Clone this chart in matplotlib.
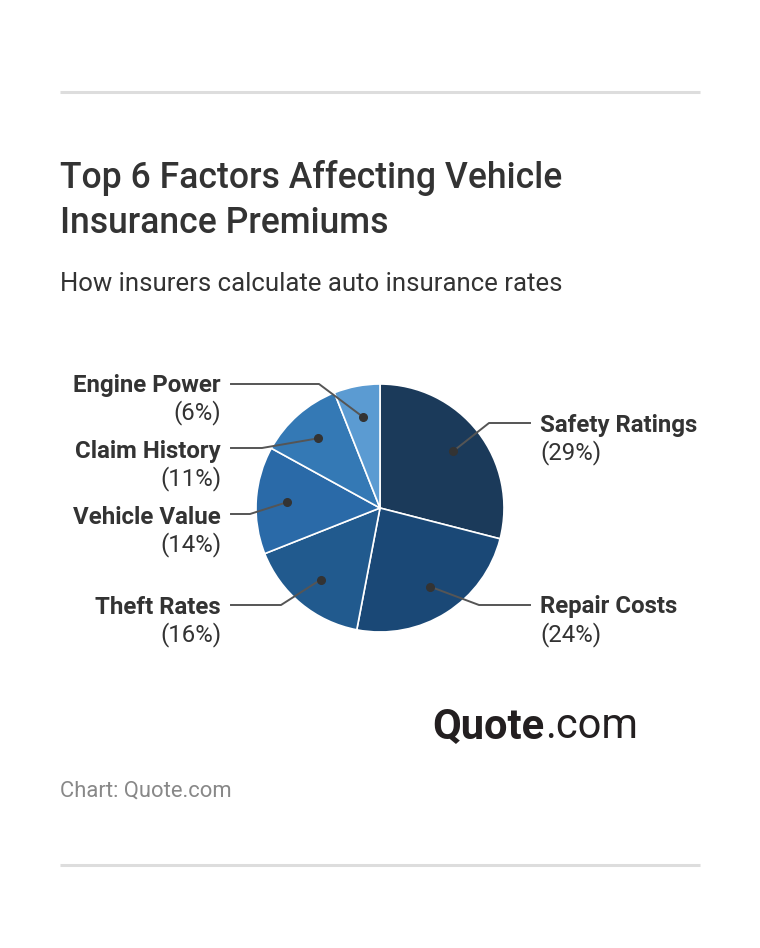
import matplotlib
matplotlib.use("Agg")
import matplotlib.pyplot as plt
import numpy as np

categories = ["Safety Ratings", "Repair Costs", "Theft Rates", "Vehicle Value", "Claim History", "Engine Power"]
values = [29, 24, 16, 14, 11, 6]
colors = ["#1b3a5a", "#1a4876", "#215a8e", "#2a6aa8", "#3479b5", "#5b9bd2"]

W, H = 760, 948
fig = plt.figure(figsize=(W / 100, H / 100), dpi=100)
ax = fig.add_axes([0, 0, 1, 1])
ax.set_xlim(0, W)
ax.set_ylim(0, H)
ax.set_aspect("equal")
ax.axis("off")
plt.rcParams['font.family'] = ['Roboto', 'DejaVu Sans']

def Y(y):
    return H - y

# rules
ax.plot([60, 700], [Y(92), Y(92)], color="#dddddd", lw=2.2, solid_capstyle="butt")
ax.plot([60, 700], [Y(865), Y(865)], color="#dddddd", lw=2.2, solid_capstyle="butt")

# title
ax.text(60, Y(178), "Top 6 Factors Affecting Vehicle", fontsize=25.6, fontweight="medium",
        color="#333333", ha="left", va="center")
ax.text(60, Y(223), "Insurance Premiums", fontsize=25.6, fontweight="medium",
        color="#333333", ha="left", va="center")
ax.text(60, Y(284), "How insurers calculate auto insurance rates", fontsize=18.5,
        color="#333333", ha="left", va="center")

# pie
cx, cy, r = 380, Y(508), 124
wedges, _ = ax.pie(values, colors=colors, startangle=90, counterclock=False,
                   center=(cx, cy), radius=r, frame=True,
                   wedgeprops=dict(edgecolor="white", linewidth=1.2))
ax.set_xlim(0, W)
ax.set_ylim(0, H)
ax.axis("off")

# label positions (pixel layout)
label_pos = [
    (540, 424, "left", 489, 423),
    (540, 606, "left", 479, 605),
    (221, 606, "right", 281, 605),
    (221, 516, "right", 250, 514),
    (221, 450, "right", 262, 448),
    (221, 384, "right", 319, 384),
]
for w, name, v, (lx, ly, ha, ex, ey) in zip(wedges, categories, values, label_pos):
    ang = np.deg2rad((w.theta1 + w.theta2) / 2)
    dx = cx + 0.75 * r * np.cos(ang)
    dy = cy + 0.75 * r * np.sin(ang)
    hx = lx - 10 if ha == "left" else lx + 10
    ax.plot([dx, ex, hx], [dy, Y(ey), Y(ey)], color="#555555", lw=1.4, zorder=3)
    ax.plot(dx, dy, "o", color="#333333", ms=5.5, zorder=4)
    ax.text(lx, Y(ly + 1), name, fontsize=17.3, fontweight="bold", color="#333333",
            ha=ha, va="center")
    ax.text(lx, Y(ly + 29), f"({v}%)", fontsize=17.3, color="#333333", ha=ha, va="center")

# logo
t = ax.text(432, Y(727), "Quote", fontsize=30, fontweight="bold", color="#231f20",
            ha="left", va="center")
fig.canvas.draw()
bb = t.get_window_extent()
ax.text(bb.x1 + 1, Y(727), ".com", fontsize=30, color="#231f20", ha="left", va="center")

ax.text(60, Y(791), "Chart: Quote.com", fontsize=15.8, color="#888888", ha="left", va="center")

fig.savefig("out.png", dpi=100)
